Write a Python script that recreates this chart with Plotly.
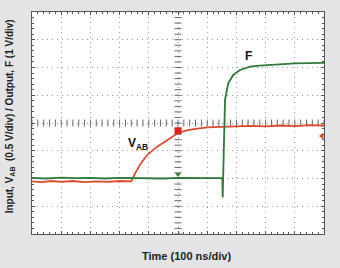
import numpy as np
import plotly.graph_objects as go

# Input V_AB trace (divisions)
vab_x = [0.0, 0.3, 0.7, 1.0, 1.4, 1.8, 2.2, 2.6, 3.0, 3.25, 3.40, 3.55, 3.7, 3.85, 4.0, 4.25, 4.5, 4.75, 5.0,
         5.3, 5.6, 6.0, 6.5, 7.0, 7.5, 8.0, 8.5, 9.0, 9.5, 10.0]
vab_y = [1.90, 1.87, 1.91, 1.88, 1.91, 1.87, 1.90, 1.88, 1.91, 1.89, 1.90, 2.22, 2.50, 2.72, 2.90, 3.12, 3.30,
         3.49, 3.64, 3.73, 3.79, 3.84, 3.86, 3.89, 3.90, 3.88, 3.91, 3.89, 3.92, 3.91]

# Output F trace (divisions)
f_x = [0.0, 0.5, 1.0, 1.5, 2.0, 2.5, 3.0, 3.5, 4.0, 4.5, 5.0, 5.5, 6.0, 6.3, 6.52, 6.53, 6.57, 6.61,
       6.72, 6.89, 7.12, 7.47, 7.8, 8.15, 8.6, 9.0, 9.5, 10.0]
f_y = [2.02, 2.00, 2.03, 2.01, 2.02, 2.00, 2.02, 2.01, 2.02, 2.00, 2.02, 2.01, 2.02, 2.00, 2.01, 1.32, 3.6, 4.83,
       5.43, 5.73, 5.91, 6.03, 6.07, 6.10, 6.12, 6.15, 6.16, 6.17]

# scope markers
ch1_marker = (5.0, 3.72)
trig_marker = (5.0, 2.14)
lvl_marker = (9.93, 3.53)

labels = {"F": (7.4, 6.42), "V<sub>AB</sub>": (3.62, 3.25)}

RED = "#de4a2c"
GREEN = "#2f7a3b"
GRID = "#9a9a9a"
FRAME = "#555555"

fig = go.Figure()

# center cross ticks
cx = np.arange(0, 10.001, 0.2)
cy = np.arange(0, 8.001, 0.2)
fig.add_trace(go.Scatter(x=cx, y=[4] * len(cx), mode="markers", hoverinfo="skip",
                         marker=dict(symbol="line-ns", size=5, line=dict(width=1, color="#666"))))
fig.add_trace(go.Scatter(x=[5] * len(cy), y=cy, mode="markers", hoverinfo="skip",
                         marker=dict(symbol="line-ew", size=5, line=dict(width=1, color="#666"))))

fig.add_trace(go.Scatter(x=vab_x, y=vab_y, mode="lines", line=dict(color=RED, width=1.8)))
fig.add_trace(go.Scatter(x=f_x, y=f_y, mode="lines", line=dict(color=GREEN, width=1.8)))

fig.add_trace(go.Scatter(x=[ch1_marker[0]], y=[ch1_marker[1]], mode="markers",
                         marker=dict(symbol="square", size=7, color="#e0231a")))
fig.add_trace(go.Scatter(x=[trig_marker[0]], y=[trig_marker[1]], mode="markers",
                         marker=dict(symbol="triangle-down", size=5, color=GREEN)))
fig.add_trace(go.Scatter(x=[lvl_marker[0]], y=[lvl_marker[1]], mode="markers",
                         marker=dict(symbol="triangle-left", size=6, color=RED)))

for txt, (lx, ly) in labels.items():
    fig.add_annotation(x=lx, y=ly, text="<b>" + txt + "</b>", showarrow=False,
                       font=dict(family="Liberation Sans, Arial", size=12, color="#111"))

axis_common = dict(
    showgrid=True, gridcolor=GRID, griddash="1px,4px", gridwidth=1,
    zeroline=False, showline=True, linecolor=FRAME, linewidth=1, mirror="ticks",
    ticks="inside", ticklen=3, tickcolor=FRAME, showticklabels=False, dtick=1,
    minor=dict(ticks="inside", ticklen=2, dtick=0.2, tickcolor=FRAME, showgrid=False),
)

fig.update_xaxes(range=[0, 10], **axis_common)
fig.update_yaxes(range=[0, 8], **axis_common)

fig.add_annotation(xref="paper", yref="paper", x=0.53, y=-0.065, yanchor="top",
                   text="<b>Time (100 ns/div)</b>", showarrow=False,
                   font=dict(family="Liberation Sans, Arial", size=11, color="#222"))
fig.add_annotation(xref="paper", yref="paper", x=-0.048, y=0.53, xanchor="right", textangle=-90,
                   text="<b>Input, V<sub>AB</sub>  (0.5 V/div) / Output, F (1 V/div)</b>", showarrow=False,
                   font=dict(family="Liberation Sans, Arial", size=10, color="#222"))

fig.update_layout(
    width=340, height=268, showlegend=False,
    margin=dict(l=32, r=16, t=12, b=34),
    paper_bgcolor="#e4e4e6", plot_bgcolor="#ffffff",
)

fig.write_html("out.html")
